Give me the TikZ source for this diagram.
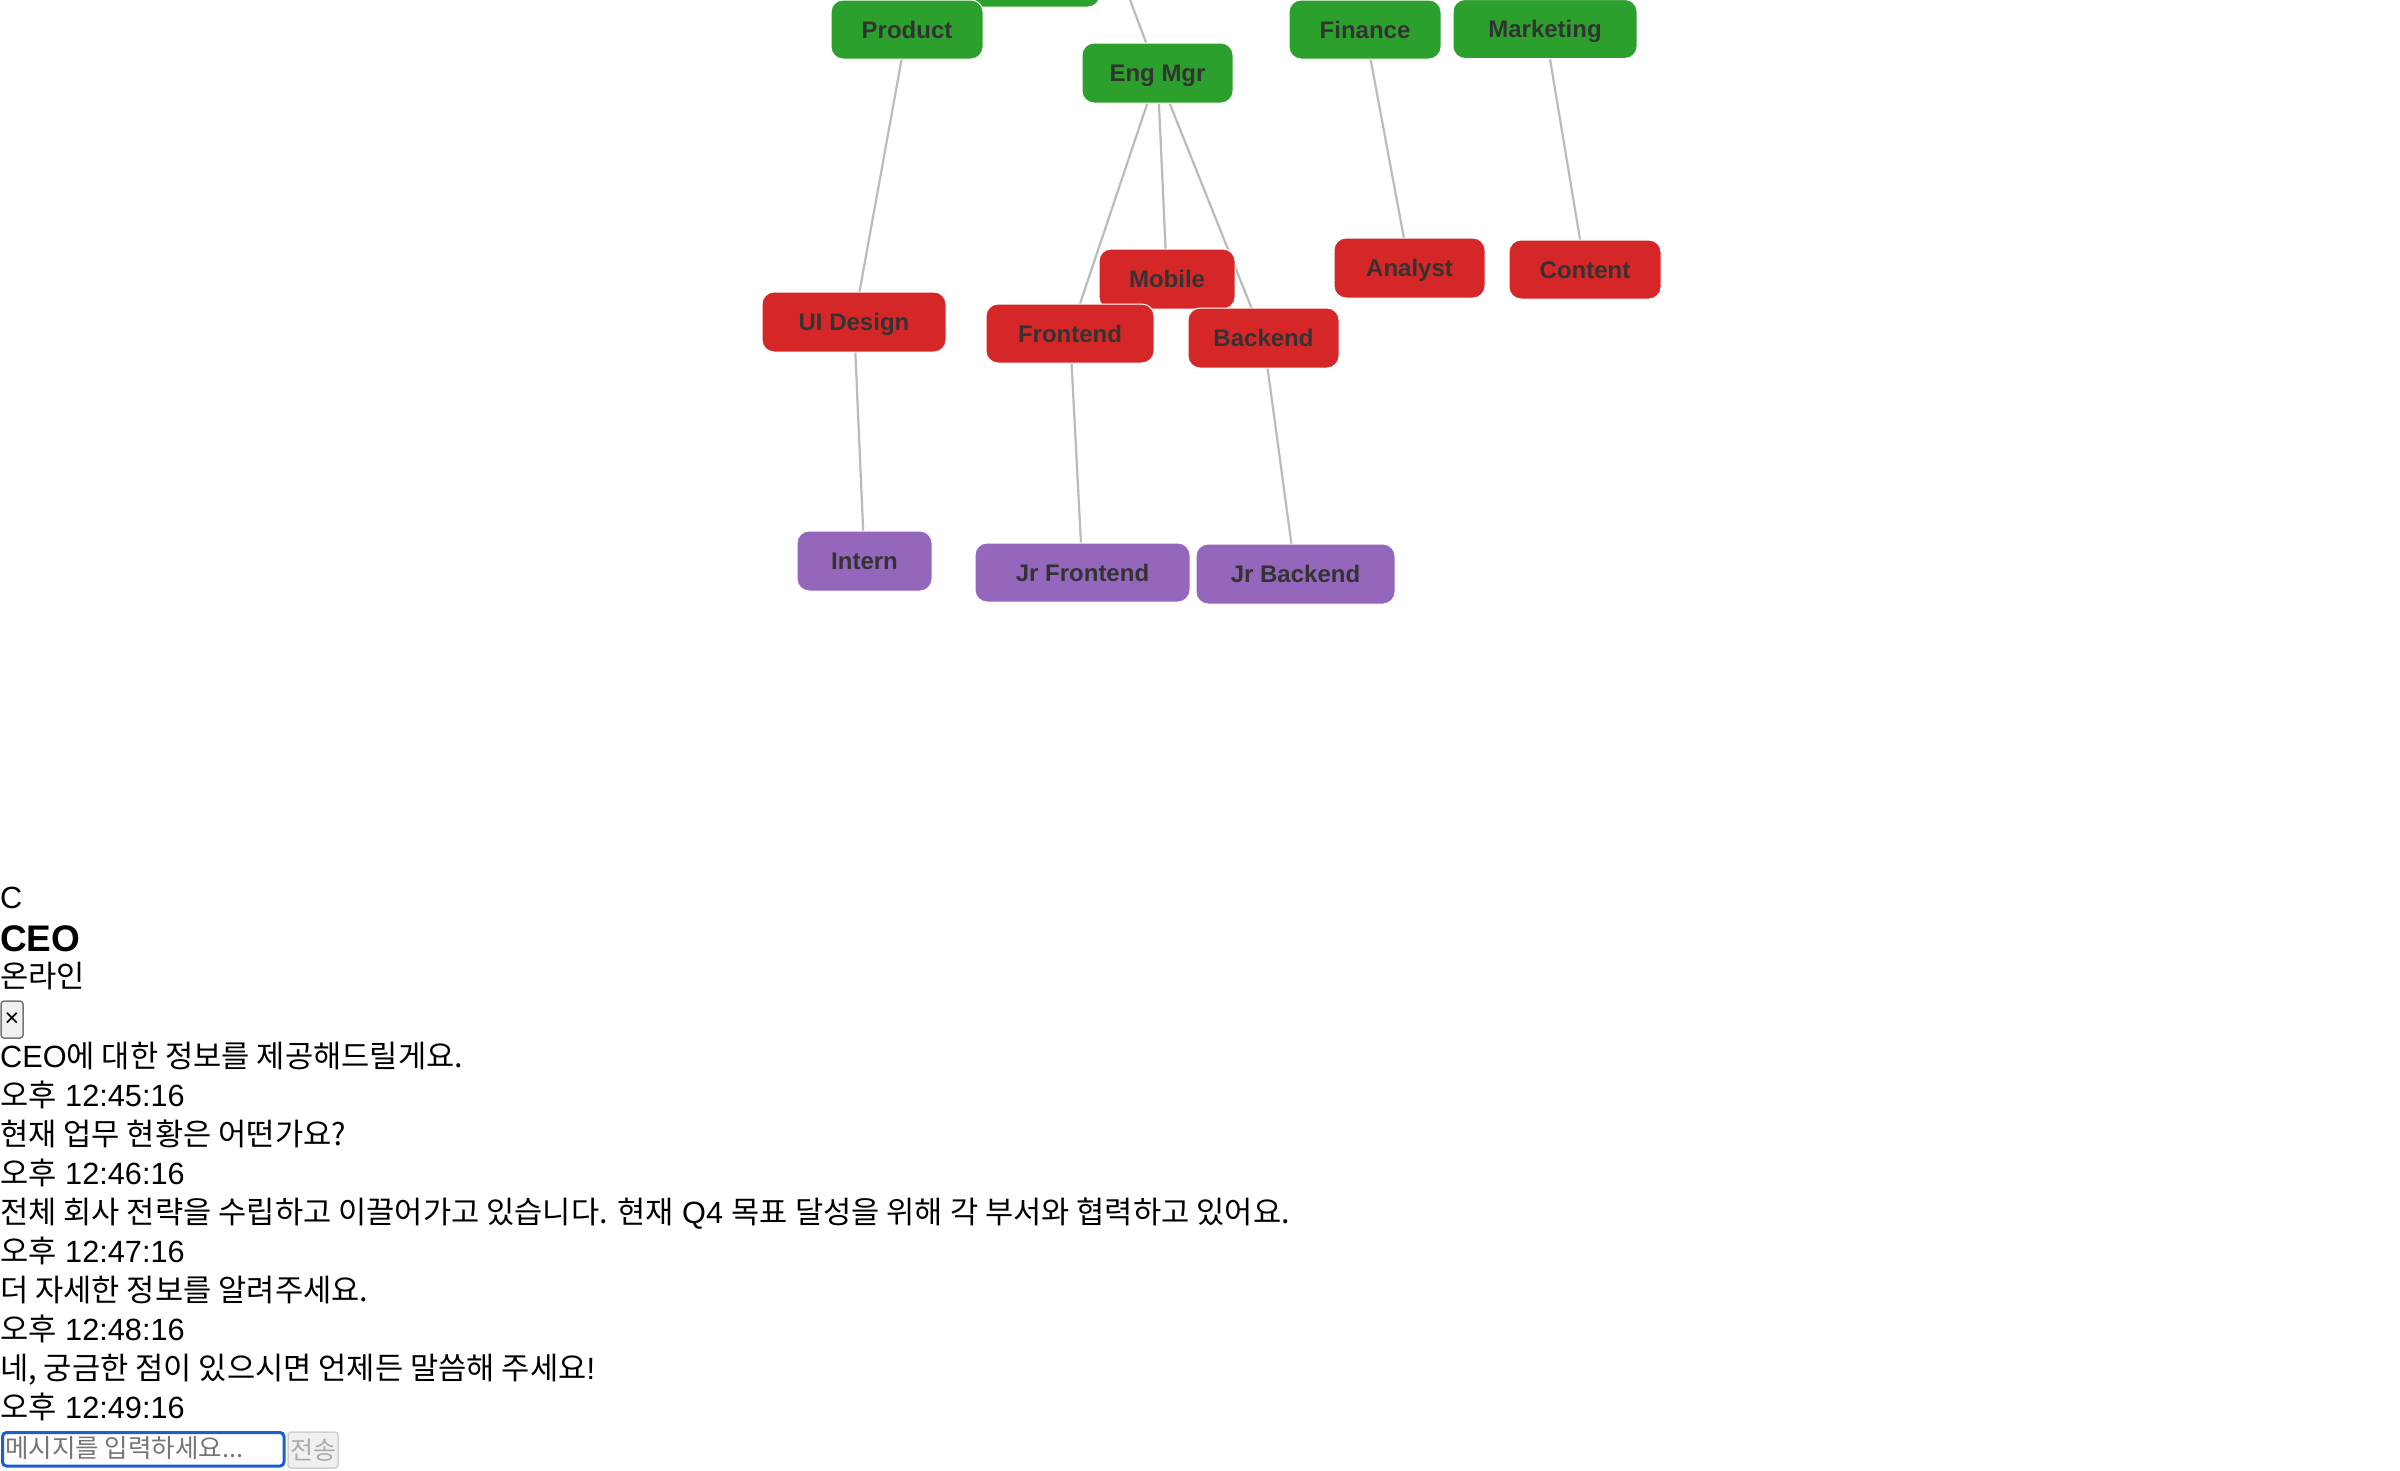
\documentclass[tikz,border=0pt]{standalone}
\usepackage{fontspec}
\setmainfont{Liberation Sans}
\newfontfamily\kr[Scale=1.0]{Noto Sans CJK KR}
\definecolor{ngreen}{HTML}{2CA02C}
\definecolor{nred}{HTML}{D62728}
\definecolor{npurple}{HTML}{9467BD}
\definecolor{txtc}{HTML}{333333}
\definecolor{edgec}{HTML}{BBBBBB}
\definecolor{inblue}{HTML}{1A5FD0}
\pgfdeclarelayer{bg}
\pgfdeclarelayer{edges}
\pgfsetlayers{bg,edges,main}
\tikzset{
  box/.style={rounded corners=12pt, minimum height=59pt, inner sep=0pt, text=txtc,
    font=\bfseries\fontsize{24}{28}\selectfont, text height=17pt, text depth=0pt,
    draw=white, line width=1pt},
  gbox/.style={box, fill=ngreen},
  rbox/.style={box, fill=nred},
  pbox/.style={box, fill=npurple},
  edge/.style={draw=edgec, line width=2.2pt},
  txt/.style={anchor=base west, inner sep=0pt, font=\fontsize{30.7}{36}\selectfont},
}
\begin{document}
\begin{tikzpicture}[x=1pt,y=-1pt]
\useasboundingbox (0,0) rectangle (2400,1470);
\clip (0,0) rectangle (2400,1470);
\begin{pgfonlayer}{bg}
\fill[white] (0,0) rectangle (2400,1470);
\end{pgfonlayer}

% tree nodes
\node[gbox, minimum width=160pt] (topbox) at (1020,-22.5) {};
\node[gbox, minimum width=152pt] (product) at (907,29.5) {Product};
\node[gbox, minimum width=151pt, minimum height=60pt] (engmgr) at (1157.5,73) {Eng Mgr};
\node[gbox, minimum width=152pt] (finance) at (1365,29.5) {Finance};
\node[gbox, minimum width=184pt] (marketing) at (1545,29) {Marketing};
\node[rbox, minimum width=136pt, minimum height=60pt] (mobile) at (1167,279) {Mobile};
\node[rbox, minimum width=151pt, minimum height=60pt] (analyst) at (1409.5,268) {Analyst};
\node[rbox, minimum width=152pt] (content) at (1585,269.5) {Content};
\node[rbox, minimum width=184pt, minimum height=60pt] (uidesign) at (854,322) {UI Design};
\node[rbox, minimum width=168pt] (frontend) at (1070,333.5) {Frontend};
\node[rbox, minimum width=151pt, minimum height=60pt] (backend) at (1263.5,338) {Backend};
\node[pbox, minimum width=135pt, minimum height=60pt] (intern) at (864.5,561) {Intern};
\node[pbox, minimum width=215pt] (jrfrontend) at (1082.5,572.5) {Jr Frontend};
\node[pbox, minimum width=199pt, minimum height=60pt] (jrbackend) at (1295.5,574) {Jr Backend};
\coordinate (ceoabove) at (1100,-80);

\begin{pgfonlayer}{edges}
\draw[edge] (ceoabove) -- (engmgr.center);
\draw[edge] (product.center) -- (uidesign.center);
\draw[edge] (engmgr.center) -- (frontend.center);
\draw[edge] (engmgr.center) -- (mobile.center);
\draw[edge] (engmgr.center) -- (backend.center);
\draw[edge] (finance.center) -- (analyst.center);
\draw[edge] (marketing.center) -- (content.center);
\draw[edge] (uidesign.center) -- (intern.center);
\draw[edge] (frontend.center) -- (jrfrontend.center);
\draw[edge] (backend.center) -- (jrbackend.center);
\end{pgfonlayer}

% chat panel
\node[txt] (avatar) at (0,908) {C};
\node[txt, font=\bfseries\fontsize{37}{42}\selectfont] (name) at (0,951) {CEO};
\node[txt] (status) at (0,987) {\kr 온라인};
\draw[fill=black!6, draw=black!54, line width=1.5pt, rounded corners=3pt] (1,1001) rectangle (23,1038);
\node[inner sep=0pt, font=\fontsize{25}{26}\selectfont] (close) at (12,1020) {×};
\node[txt] (m1) at (0,1067) {CEO{\kr 에 대한 정보를 제공해드릴게요.}};
\node[txt] (t1) at (0,1106) {{\kr 오후} 12:45:16};
\node[txt] (m2) at (0,1145) {\kr 현재 업무 현황은 어떤가요?};
\node[txt] (t2) at (0,1184) {{\kr 오후} 12:46:16};
\node[txt] (m3) at (0,1223) {{\kr 전체 회사 전략을 수립하고 이끌어가고 있습니다. 현재} Q4 {\kr 목표 달성을 위해 각 부서와 협력하고 있어요.}};
\node[txt] (t3) at (0,1262) {{\kr 오후} 12:47:16};
\node[txt] (m4) at (0,1301) {\kr 더 자세한 정보를 알려주세요.};
\node[txt] (t4) at (0,1340) {{\kr 오후} 12:48:16};
\node[txt] (m5) at (0,1379) {{\kr 네, 궁금한 점이 있으시면 언제든 말씀해 주세요}!};
\node[txt] (t5) at (0,1418) {{\kr 오후} 12:49:16};

% input row
\draw[draw=inblue, fill=white, line width=3pt, rounded corners=4pt] (2.5,1432.5) rectangle (284,1466);
\node[txt, font=\fontsize{25.5}{30}\selectfont, text=black!54] (placeholder) at (5,1457) {\kr 메시지를 입력하세요...};
\draw[fill=black!6, draw=black!18, line width=1.5pt, rounded corners=3pt] (288,1432) rectangle (338,1468);
\node[inner sep=0pt, font=\fontsize{25}{30}\selectfont, text=black!33] (send) at (313,1450) {\kr 전송};
\end{tikzpicture}
\end{document}
